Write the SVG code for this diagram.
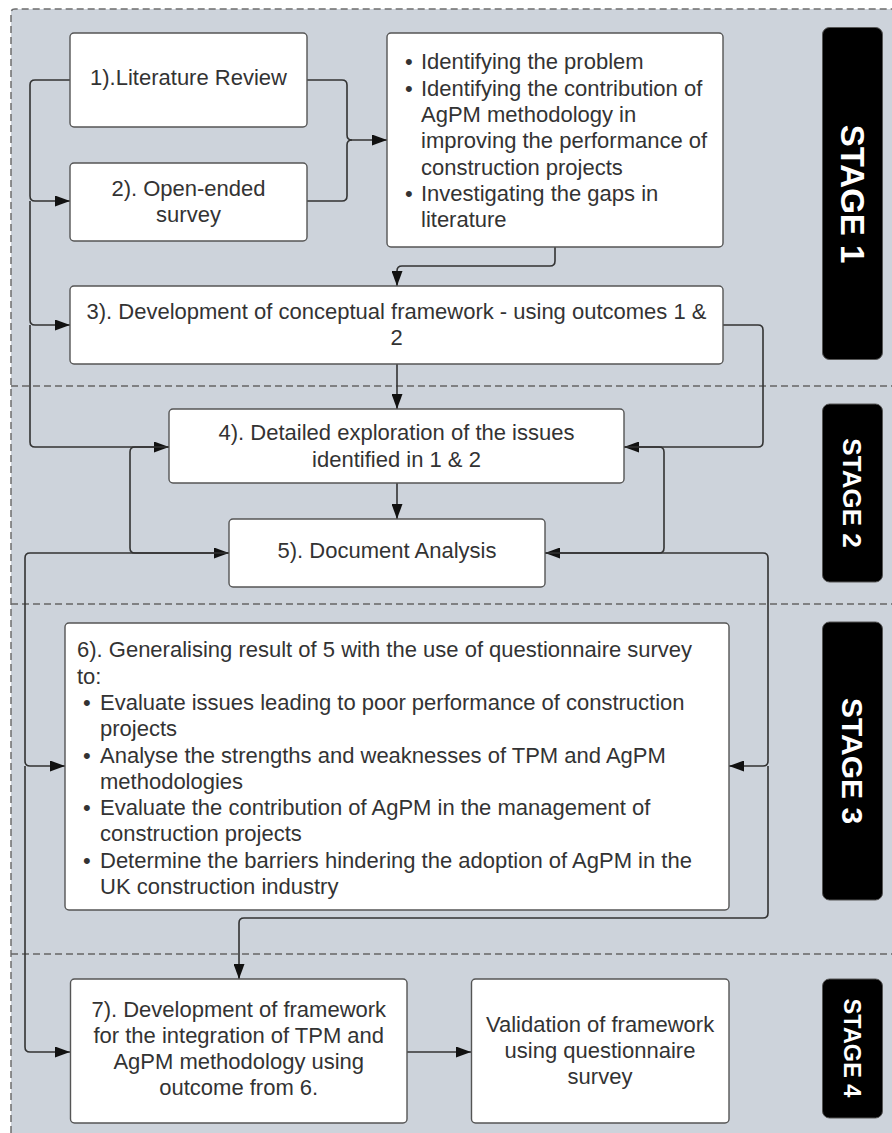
<svg xmlns="http://www.w3.org/2000/svg" width="892" height="1133" viewBox="0 0 892 1133">
  <defs>
    <marker id="arrow" viewBox="0 0 15 11" refX="15" refY="5.5" markerWidth="15" markerHeight="11" markerUnits="userSpaceOnUse" orient="auto">
      <path d="M0,0 L15,5.5 L0,11 Z" fill="#111"/>
    </marker>
    <style>
      .panel { fill: #cdd3db; }
      .frame { fill: none; stroke: #6e6e6e; stroke-width: 1.5; stroke-dasharray: 7 4; }
      .divider { fill: none; stroke: #666; stroke-width: 1.5; stroke-dasharray: 7 4; }
      .box { fill: #fff; stroke: #555; stroke-width: 1.4; }
      .stage { fill: #000; stroke: #555; stroke-width: 1; }
      .txt { font-family: "Liberation Sans", Arial, sans-serif; font-size: 22px; fill: #333; }
      .mid { text-anchor: middle; }
      .stxt { font-family: "Liberation Sans", Arial, sans-serif; font-weight: bold; fill: #fff; text-anchor: middle; }
      .conn path { fill: none; stroke: #333; stroke-width: 1.6; }
    </style>
  </defs>

  <!-- background panel and dashed frame -->
  <rect class="panel" x="11" y="9" width="881" height="1124"/>
  <path class="frame" d="M11,1133 V13 Q11,9 15,9 H892"/>

  <!-- stage dividers -->
  <g id="dividers">
    <line class="divider" x1="11" y1="386" x2="892" y2="386"/>
    <line class="divider" x1="11" y1="604" x2="892" y2="604"/>
    <line class="divider" x1="11" y1="954" x2="892" y2="954"/>
  </g>

  <!-- connectors -->
  <g id="connectors" class="conn">
    <!-- 1 -> 2, 3, 4 along the left side -->
    <path d="M70,80 H35 Q30,80 30,85 V196 Q30,201 35,201 H70" marker-end="url(#arrow)"/>
    <path d="M30,201 V320 Q30,325 35,325 H70" marker-end="url(#arrow)"/>
    <path d="M30,325 V442 Q30,447 35,447 H169" marker-end="url(#arrow)"/>
    <!-- 1 & 2 -> outcomes box -->
    <path d="M307,80 H342 Q347,80 347,85 V135 Q347,140 352,140 H387" marker-end="url(#arrow)"/>
    <path d="M307,201 H342 Q347,201 347,196 V145 Q347,140 352,140"/>
    <!-- outcomes -> 3 -->
    <path d="M555,247 V261 Q555,266 550,266 H402 Q397,266 397,271 V286" marker-end="url(#arrow)"/>
    <!-- 3 -> 4 -> 5 -->
    <path d="M397,364 V409" marker-end="url(#arrow)"/>
    <path d="M397,483 V519" marker-end="url(#arrow)"/>
    <!-- 3 right side -> 4 -->
    <path d="M723,325 H758 Q763,325 763,330 V442 Q763,447 758,447 H624" marker-end="url(#arrow)"/>
    <!-- 4 / 5 loops -->
    <path d="M169,447 H135 Q130,447 130,452 V548 Q130,553 135,553 H229" marker-end="url(#arrow)"/>
    <path d="M624,447 H659 Q664,447 664,452 V548 Q664,553 659,553 H545" marker-end="url(#arrow)"/>
    <!-- 5 -> 6 and 7 on the left -->
    <path d="M229,553 H30 Q25,553 25,558 V761 Q25,766 30,766 H65" marker-end="url(#arrow)"/>
    <path d="M25,766 V1047 Q25,1052 30,1052 H70" marker-end="url(#arrow)"/>
    <!-- 5 -> 6 and 7 on the right -->
    <path d="M545,553 H763 Q768,553 768,558 V761 Q768,766 763,766 H729" marker-end="url(#arrow)"/>
    <path d="M768,766 V913 Q768,918 763,918 H244 Q239,918 239,923 V979" marker-end="url(#arrow)"/>
    <!-- 7 -> validation -->
    <path d="M407,1052 H471" marker-end="url(#arrow)"/>
  </g>

  <g id="n1">
    <rect class="box" x="70" y="33" width="237" height="94" rx="4"/>
    <text class="txt mid" x="188.5" y="85">1).Literature Review</text>
  </g>

  <g id="n2">
    <rect class="box" x="70" y="163" width="237" height="78" rx="4"/>
    <text class="txt mid" x="188.5" y="196">2). Open-ended<tspan x="188.5" y="222">survey</tspan></text>
  </g>

  <g id="n-outcomes">
    <rect class="box" x="387" y="33" width="336" height="214" rx="4"/>
    <text class="txt">
      <tspan x="405" y="69">•</tspan><tspan x="421" y="69">Identifying the problem</tspan>
      <tspan x="405" y="95.5">•</tspan><tspan x="421" y="95.5">Identifying the contribution of</tspan>
      <tspan x="421" y="122">AgPM methodology in</tspan>
      <tspan x="421" y="148">improving the performance of</tspan>
      <tspan x="421" y="174.5">construction projects</tspan>
      <tspan x="405" y="201">•</tspan><tspan x="421" y="201">Investigating the gaps in</tspan>
      <tspan x="421" y="227">literature</tspan>
    </text>
  </g>

  <g id="n3">
    <rect class="box" x="70" y="286" width="653" height="78" rx="4"/>
    <text class="txt mid" x="396.5" y="319">3). Development of conceptual framework - using outcomes 1 &amp;<tspan x="396.5" y="345">2</tspan></text>
  </g>

  <g id="n4">
    <rect class="box" x="169" y="409" width="455" height="74" rx="4"/>
    <text class="txt mid" x="396.5" y="440">4). Detailed exploration of the issues<tspan x="396.5" y="466.5">identified in 1 &amp; 2</tspan></text>
  </g>

  <g id="n5">
    <rect class="box" x="229" y="519" width="316" height="68" rx="4"/>
    <text class="txt mid" x="387" y="558">5). Document Analysis</text>
  </g>

  <g id="n6">
    <rect class="box" x="65" y="623" width="664" height="287" rx="4"/>
    <text class="txt">
      <tspan x="77" y="657.3">6). Generalising result of 5 with the use of questionnaire survey</tspan>
      <tspan x="77" y="683.6">to:</tspan>
      <tspan x="83" y="709.9">•</tspan><tspan x="100" y="709.9">Evaluate issues leading to poor performance of construction</tspan>
      <tspan x="100" y="736.2">projects</tspan>
      <tspan x="83" y="762.5">•</tspan><tspan x="100" y="762.5">Analyse the strengths and weaknesses of TPM and AgPM</tspan>
      <tspan x="100" y="788.8">methodologies</tspan>
      <tspan x="83" y="815.1">•</tspan><tspan x="100" y="815.1">Evaluate the contribution of AgPM in the management of</tspan>
      <tspan x="100" y="841.4">construction projects</tspan>
      <tspan x="83" y="867.7">•</tspan><tspan x="100" y="867.7">Determine the barriers hindering the adoption of AgPM in the</tspan>
      <tspan x="100" y="894">UK construction industry</tspan>
    </text>
  </g>

  <g id="n7">
    <rect class="box" x="70.5" y="979" width="336.5" height="144" rx="4"/>
    <text class="txt mid" x="238.75" y="1017">7). Development of framework<tspan x="238.75" y="1043">for the integration of TPM and</tspan><tspan x="238.75" y="1069">AgPM methodology using</tspan><tspan x="238.75" y="1095">outcome from 6.</tspan></text>
  </g>

  <g id="n8">
    <rect class="box" x="471.5" y="979" width="257.5" height="144" rx="4"/>
    <text class="txt mid" x="600" y="1032">Validation of framework<tspan x="600" y="1058">using questionnaire</tspan><tspan x="600" y="1084">survey</tspan></text>
  </g>

  <!-- stage tags, text running downwards -->
  <g id="stage1">
    <rect class="stage" x="822.5" y="27.5" width="60" height="332" rx="7"/>
    <text class="stxt" font-size="33" transform="translate(852.5,194) rotate(90)" y="11.8">STAGE 1</text>
  </g>
  <g id="stage2">
    <rect class="stage" x="822.5" y="404" width="60" height="178" rx="7"/>
    <text class="stxt" font-size="26" transform="translate(852.5,493) rotate(90)" y="9.3">STAGE 2</text>
  </g>
  <g id="stage3">
    <rect class="stage" x="822.5" y="622" width="60" height="278" rx="7"/>
    <text class="stxt" font-size="30" transform="translate(852.5,761) rotate(90)" y="10.7">STAGE 3</text>
  </g>
  <g id="stage4">
    <rect class="stage" x="822.5" y="979" width="60" height="139" rx="7"/>
    <text class="stxt" font-size="23.5" transform="translate(852.5,1048) rotate(90)" y="8.4">STAGE 4</text>
  </g>
</svg>
